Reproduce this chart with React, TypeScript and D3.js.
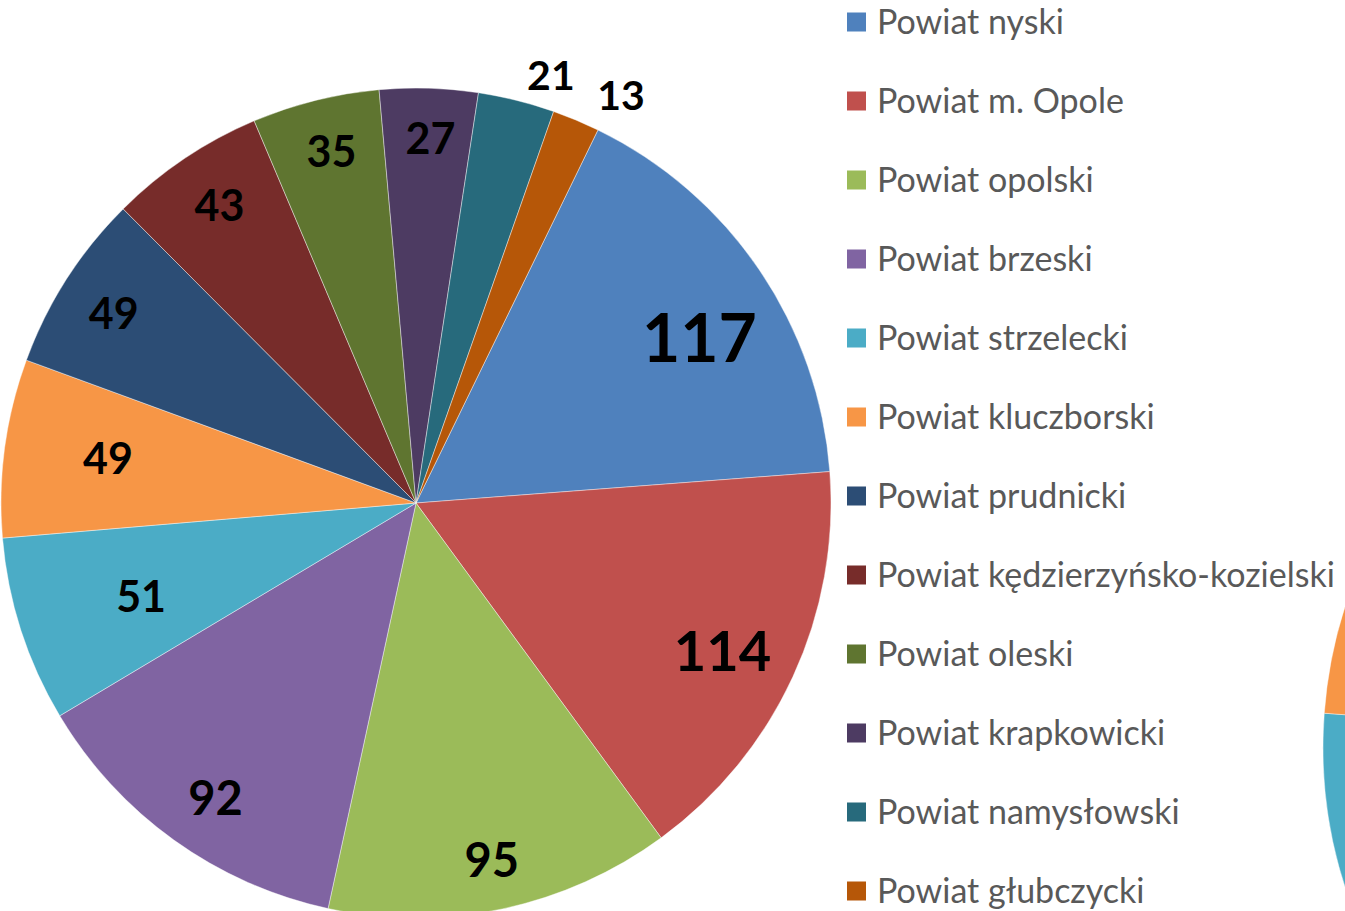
import React, { useEffect, useRef } from "react";
import * as d3 from "d3";

const categories = [
  "Powiat nyski",
  "Powiat m. Opole",
  "Powiat opolski",
  "Powiat brzeski",
  "Powiat strzelecki",
  "Powiat kluczborski",
  "Powiat prudnicki",
  "Powiat kędzierzyńsko-kozielski",
  "Powiat oleski",
  "Powiat krapkowicki",
  "Powiat namysłowski",
  "Powiat głubczycki",
];
const values = [117, 114, 95, 92, 51, 49, 49, 43, 35, 27, 21, 13];
const colors = [
  "#4F81BD", "#C0504D", "#9BBB59", "#8064A2", "#4BACC6", "#F79646",
  "#2C4D75", "#772C2A", "#5F7530", "#4D3B62", "#276A7C", "#B65708",
];
// label styling: font size, radius factor, angle nudge (deg)
const labelFont = [66, 56, 47, 47, 43, 43, 43, 43, 43, 43, 41, 41];
const labelRadius = [0.79, 0.82, 0.88, 0.86, 0.7, 0.75, 0.86, 0.86, 0.87, 0.88, 1.08, 1.1];
const labelNudge = [4, 1, 0, -1.5, -1, 0.5, -0.5, 0.5, 0.5, 0.5, 3.5, 4];

const W = 1345;
const H = 911;
const FONT = "Lato, 'Open Sans', sans-serif";

export default function App() {
  const ref = useRef<SVGSVGElement>(null);
  useEffect(() => {
    const svg = d3.select(ref.current);
    svg.selectAll("*").remove();
    const deg = Math.PI / 180;
    const data = categories.map((c, i) => ({ c, v: values[i], i }));

    // cropped second pie at right edge
    const cx2 = 1779, cy2 = 747, r2 = 456;
    const pie2 = d3.pie<any>().sort(null).value((d) => d.v).startAngle(35.1 * deg).endAngle(395.1 * deg);
    const arc2 = d3.arc<any>().innerRadius(0).outerRadius(r2);
    svg.append("g").attr("transform", `translate(${cx2},${cy2})`)
      .selectAll("path").data(pie2(data)).join("path")
      .attr("d", arc2 as any).attr("fill", (d: any) => colors[d.data.i])
      .attr("stroke", "rgba(255,255,255,0.6)").attr("stroke-width", 0.7);

    // main pie
    const cx = 416, cy = 503, r = 415;
    const pie = d3.pie<any>().sort(null).value((d) => d.v).startAngle(26 * deg).endAngle(386 * deg);
    const arcs = pie(data);
    const arc = d3.arc<any>().innerRadius(0).outerRadius(r);
    const g = svg.append("g").attr("transform", `translate(${cx},${cy})`);
    g.selectAll("path").data(arcs).join("path")
      .attr("d", arc as any).attr("fill", (d: any) => colors[d.data.i])
      .attr("stroke", "rgba(255,255,255,0.6)").attr("stroke-width", 0.7);

    g.selectAll("text").data(arcs).join("text")
      .attr("x", (d: any) => {
        const a = (d.startAngle + d.endAngle) / 2 + labelNudge[d.data.i] * deg;
        return Math.sin(a) * r * labelRadius[d.data.i];
      })
      .attr("y", (d: any) => {
        const a = (d.startAngle + d.endAngle) / 2 + labelNudge[d.data.i] * deg;
        return -Math.cos(a) * r * labelRadius[d.data.i];
      })
      .attr("dy", "0.36em")
      .attr("text-anchor", "middle")
      .attr("font-family", FONT)
      .attr("font-weight", "bold")
      .attr("font-size", (d: any) => labelFont[d.data.i])
      .attr("fill", "#000")
      .text((d: any) => d.data.v);

    // legend
    const lg = svg.append("g");
    const rows = lg.selectAll("g").data(data).join("g")
      .attr("transform", (d) => `translate(847,${22 + d.i * 79})`);
    rows.append("rect").attr("x", 0).attr("y", -9.5).attr("width", 19).attr("height", 19)
      .attr("fill", (d) => colors[d.i]);
    rows.append("text").attr("x", 30).attr("dy", "0.36em")
      .attr("font-family", FONT).attr("font-size", 34).attr("fill", "#595959")
      .text((d) => d.c);
  }, []);
  return (
    <svg ref={ref} width={W} height={H}
      style={{ position: "absolute", left: 0, top: 0, background: "#fff" }} />
  );
}
